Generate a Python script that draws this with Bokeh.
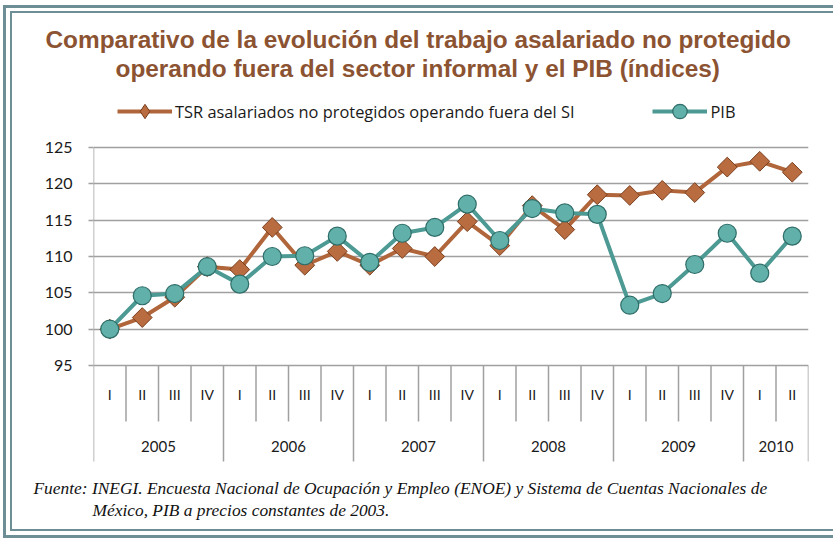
from bokeh.plotting import figure
from bokeh.models import Range1d, FixedTicker, Legend, LegendItem, Title
from bokeh.core.properties import value
from bokeh.embed import file_html
from bokeh.resources import INLINE
import numpy as np

# ---------------- data ----------------
quarters = ["I", "II", "III", "IV"] * 5 + ["I", "II"]
years = ["2005", "2006", "2007", "2008", "2009", "2010"]
year_counts = [4, 4, 4, 4, 4, 2]
tsr = [100.0, 101.6, 104.4, 108.6, 108.2, 114.0, 108.8, 110.7, 108.8, 111.1, 110.0,
       114.8, 111.5, 117.0, 113.7, 118.5, 118.4, 119.1, 118.8, 122.3, 123.1, 121.6]
pib = [100.0, 104.6, 104.9, 108.6, 106.2, 110.0, 110.1, 112.8, 109.2, 113.2, 114.0,
       117.2, 112.2, 116.6, 116.0, 115.8, 103.3, 104.9, 108.9, 113.2, 107.7, 112.8]
y_ticks = [95, 100, 105, 110, 115, 120, 125]
name_tsr = "TSR asalariados no protegidos operando fuera del SI"
name_pib = "PIB"
title_1 = "Comparativo de la evolución del trabajo asalariado no protegido"
title_2 = "operando fuera del sector informal y el PIB (índices)"
note_1 = "Fuente: INEGI. Encuesta Nacional de Ocupación y Empleo (ENOE) y Sistema de Cuentas Nacionales de"
note_2 = "México, PIB a  precios constantes de 2003."

# ---------------- layout (pixels, page coordinates) ----------------
W, H = 833, 541
FRAME_L, FRAME_R, FRAME_T, FRAME_B = 93, 808, 81, 462
TOP_TICK_PX, LOW_TICK_PX = 147, 365          # where the highest / lowest value ticks sit
Y_TOP, Y_AXIS = max(y_ticks), min(y_ticks)
PPU = (LOW_TICK_PX - TOP_TICK_PX) / (Y_TOP - Y_AXIS)   # px per unit


def px_to_y(py):
    return Y_TOP - (py - TOP_TICK_PX) / PPU


Y_MAX = px_to_y(FRAME_T)
Y_MIN = px_to_y(FRAME_B)
Q_LABEL_Y = px_to_y(394)
Y_LABEL_Y = px_to_y(446)
Q_SEP_Y = px_to_y(421)
Y_SEP_Y = px_to_y(461)

n = len(quarters)
xs = np.arange(n) + 0.5

BROWN_LINE = "#B0663A"
BROWN_FILL = "#B96C3F"
BROWN_EDGE = "#7A3E1D"
TEAL_LINE = "#4C9A93"
TEAL_FILL = "#62B0AA"
TEAL_EDGE = "#2E6D68"
GRID = "#A0A0A0"
BORDER = "#6E8E96"
TEXT = "#1a1a1a"

p = figure(width=W, height=H, output_backend="svg", toolbar_location=None,
           x_range=Range1d(0, n), y_range=Range1d(Y_MIN, Y_MAX),
           x_axis_type=None, min_border_left=FRAME_L, min_border_right=W - FRAME_R,
           min_border_top=FRAME_T, min_border_bottom=H - FRAME_B)
p.outline_line_color = None
p.background_fill_color = "white"
p.border_fill_color = None

# double frame around the whole picture, painted behind the transparent canvas border
grad = "linear-gradient(%s,%s)" % (BORDER, BORDER)
p.styles = {
    "background-color": "white",
    "background-image": ", ".join([grad] * 6),
    "background-position": "3px 5px, 10px 11px, 3px 5px, 10px 11px, 3px 535px, 10px 529px",
    "background-size": "830px 3px, 823px 2px, 3px 533px, 2px 520px, 830px 3px, 823px 2px",
    "background-repeat": "no-repeat",
}

# y axis (its line is drawn below as a segment so it starts at the top tick)
p.yaxis.ticker = FixedTicker(ticks=y_ticks)
p.yaxis.axis_line_color = None
p.yaxis.major_tick_line_color = GRID
p.yaxis.major_tick_line_width = 1.5
p.yaxis.major_tick_out = 5
p.yaxis.major_tick_in = 0
p.yaxis.minor_tick_line_color = None
p.yaxis.major_label_standoff = 16
p.yaxis.major_label_text_font = "Lato"
p.yaxis.major_label_text_font_size = "16px"
p.yaxis.major_label_text_color = TEXT
p.ygrid.ticker = FixedTicker(ticks=y_ticks)
p.ygrid.grid_line_color = GRID
p.ygrid.grid_line_width = 1.6
p.xgrid.visible = False

# category separators and value-axis line
bounds = np.concatenate([[0], np.cumsum(year_counts)])
q_bounds = [b for b in range(1, n) if b not in bounds]
p.segment(x0=q_bounds, x1=q_bounds, y0=[Y_AXIS] * len(q_bounds), y1=[Q_SEP_Y] * len(q_bounds),
          line_color=GRID, line_width=1.5)
p.segment(x0=list(bounds), x1=list(bounds), y0=[Y_AXIS] * len(bounds), y1=[Y_SEP_Y] * len(bounds),
          line_color=GRID, line_width=1.5)
p.segment(x0=[0], x1=[0], y0=[Y_TOP], y1=[Y_AXIS], line_color=GRID, line_width=1.5)

# category labels
p.text(x=xs, y=[Q_LABEL_Y] * n, text=quarters, text_align="center", text_baseline="middle",
       text_font=value("Lato"), text_font_size="14px", text_color=TEXT)
year_centers = (bounds[:-1] + bounds[1:]) / 2
p.text(x=year_centers, y=[Y_LABEL_Y] * len(years), text=years, text_align="center",
       text_baseline="middle", text_font=value("Lato"), text_font_size="15px", text_color=TEXT)

# series
l_tsr = p.line(xs, tsr, line_color=BROWN_LINE, line_width=4)
m_tsr = p.scatter(xs, tsr, marker="square", angle=np.pi / 4, size=14,
                  fill_color=BROWN_FILL, line_color=BROWN_EDGE, line_width=1)
# diamond swatch used by the legend (zero-size in the plot itself)
k_tsr = p.scatter(xs, tsr, marker="diamond", size=0, fill_color=BROWN_FILL,
                  line_color=BROWN_EDGE, line_width=1)
l_pib = p.line(xs, pib, line_color=TEAL_LINE, line_width=4)
m_pib = p.scatter(xs, pib, marker="circle", size=18,
                  fill_color=TEAL_FILL, line_color=TEAL_EDGE, line_width=1.2)

LEG_CY, LEG_H = 111, 36
legend = Legend(items=[LegendItem(label=name_tsr, renderers=[l_tsr, k_tsr]),
                       LegendItem(label=name_pib, renderers=[l_pib, m_pib])],
                orientation="horizontal",
                location=(117 - FRAME_L, FRAME_B - (LEG_CY + LEG_H / 2)),
                glyph_width=55, glyph_height=LEG_H, label_height=LEG_H, label_standoff=3,
                spacing=78, padding=0, margin=0, border_line_color=None,
                background_fill_alpha=0, label_text_font="Open Sans",
                label_text_font_size="16.4px", label_text_color=TEXT)
p.add_layout(legend, "center")

# titles (added from the plot outwards)
TITLE_COLOR = "#8C5332"
for txt, x0 in [(title_2, 115), (title_1, 45)]:
    p.add_layout(Title(text=txt, align="left", offset=x0 - FRAME_L, standoff=0,
                       text_font="Liberation Sans", text_font_style="bold",
                       text_font_size="24.4px", text_color=TITLE_COLOR), "above")

# footnote (added from the plot outwards; first a blank spacer line)
p.add_layout(Title(text="\u00a0", standoff=0, text_font="Liberation Serif",
                   text_font_size="10px"), "below")
for txt, x0 in [(note_1, 33), (note_2, 92)]:
    p.add_layout(Title(text=txt, align="left", offset=x0 - FRAME_L, standoff=0,
                       text_font="Liberation Serif", text_font_style="italic",
                       text_font_size="17.4px", text_color="#111111"), "below")

open("out.html", "w").write(file_html(p, INLINE))
